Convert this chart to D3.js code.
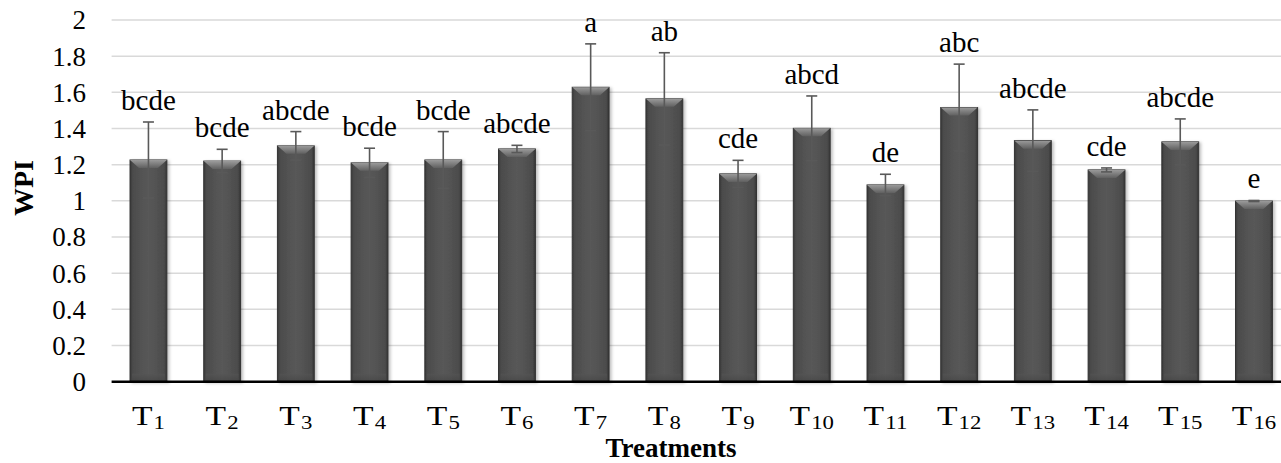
<!DOCTYPE html>
<html>
<head>
<meta charset="utf-8">
<script src="https://cdn.jsdelivr.net/npm/d3@7"></script>
<style>
  html, body { margin: 0; padding: 0; background: #fff; }
  svg { display: block; }
</style>
</head>
<body>
<svg id="chart" width="1281" height="463"></svg>
<script>
const categories = ["T1","T2","T3","T4","T5","T6","T7","T8","T9","T10","T11","T12","T13","T14","T15","T16"];
const wpiValues  = [1.226, 1.22, 1.304, 1.21, 1.226, 1.287, 1.628, 1.564, 1.149, 1.401, 1.088, 1.516, 1.333, 1.171, 1.326, 0.999];
const errValues  = [0.21, 0.065, 0.079, 0.081, 0.157, 0.02, 0.24, 0.255, 0.075, 0.179, 0.059, 0.24, 0.17, 0.011, 0.127, 0.003];
const groupLetters = ["bcde","bcde","abcde","bcde","bcde","abcde","a","ab","cde","abcd","de","abc","abcde","cde","abcde","e"];
const yTicks = [0, 0.2, 0.4, 0.6, 0.8, 1, 1.2, 1.4, 1.6, 1.8, 2];
const yTickLabels = ["0","0.2","0.4","0.6","0.8","1","1.2","1.4","1.6","1.8","2"];
const xTitle = "Treatments";
const yTitle = "WPI";

const FONT = "Liberation Serif, Times New Roman, serif";
const svg = d3.select("#chart");
const left = 111.6, step = 73.7;
const x = d3.scaleBand().domain(categories)
  .range([left, left + step * categories.length])
  .paddingInner(0.5).paddingOuter(0.25);
const y = d3.scaleLinear().domain([0, 2]).range([381.7, 20]);

const defs = svg.append("defs");
const g1 = defs.append("linearGradient").attr("id","barGrad").attr("x1","0").attr("x2","1").attr("y1","0").attr("y2","0");
[[0,"#3a3a3a"],[0.08,"#4c4c4c"],[0.5,"#585858"],[0.92,"#4c4c4c"],[1,"#353535"]].forEach(([o,c]) =>
  g1.append("stop").attr("offset", o).attr("stop-color", c));
const g2 = defs.append("linearGradient").attr("id","bevelGrad").attr("x1","0").attr("x2","0").attr("y1","0").attr("y2","1");
[[0,"#9a9a9a"],[1,"#606060"]].forEach(([o,c]) =>
  g2.append("stop").attr("offset", o).attr("stop-color", c));
const g3 = defs.append("linearGradient").attr("id","botGrad").attr("x1","0").attr("x2","0").attr("y1","0").attr("y2","1");
[[0,"#555555"],[1,"#424242"]].forEach(([o,c]) =>
  g3.append("stop").attr("offset", o).attr("stop-color", c));
const flt = defs.append("filter").attr("id","shadow").attr("x","-20%").attr("y","-5%").attr("width","150%").attr("height","115%");
flt.append("feDropShadow").attr("dx",2).attr("dy",1).attr("stdDeviation",1.6).attr("flood-color","#000").attr("flood-opacity",0.25);

// gridlines
svg.append("g").selectAll("line").data(yTicks.filter(d => d > 0)).join("line")
  .attr("x1", left).attr("x2", 1281)
  .attr("y1", d => y(d)).attr("y2", d => y(d))
  .attr("stroke", "#d9d9d9").attr("stroke-width", 1.5);

// y tick labels
svg.append("g").selectAll("text").data(yTicks).join("text")
  .attr("x", 86).attr("y", d => y(d))
  .attr("dy", "0.35em").attr("text-anchor","end")
  .style("font-family", FONT)
  .attr("font-size", 27).attr("fill","#000")
  .text((d,i) => yTickLabels[i]);

// bars
const bars = svg.append("g").selectAll("g").data(categories).join("g");
bars.append("rect")
  .attr("x", d => x(d)).attr("y", (d,i) => y(wpiValues[i]))
  .attr("width", x.bandwidth()).attr("height", (d,i) => y(0) - y(wpiValues[i]))
  .attr("fill","url(#barGrad)").attr("stroke","#333").attr("stroke-width",1)
  .attr("filter","url(#shadow)");
bars.append("path")
  .attr("d", (d,i) => {
    const x0 = x(d), x1 = x(d) + x.bandwidth(), t = y(wpiValues[i]), h = 8, ins = 9;
    return `M${x0},${t}L${x1},${t}L${x1-ins},${t+h}L${x0+ins},${t+h}Z`;
  })
  .attr("fill","url(#bevelGrad)");
bars.append("rect")
  .attr("x", d => x(d) + 2).attr("y", y(0) - 8)
  .attr("width", x.bandwidth() - 4).attr("height", 8)
  .attr("fill","url(#botGrad)").attr("opacity",0.6);

// error bars
const eb = svg.append("g").attr("stroke","#595959").attr("stroke-width",1.6);
categories.forEach((c,i) => {
  const cx = x(c) + x.bandwidth()/2;
  const hi = y(wpiValues[i] + errValues[i]), lo = y(wpiValues[i] - errValues[i]);
  eb.append("line").attr("x1",cx).attr("x2",cx).attr("y1",hi).attr("y2",lo);
  eb.append("line").attr("x1",cx-5.5).attr("x2",cx+5.5).attr("y1",hi).attr("y2",hi);
  eb.append("line").attr("x1",cx-5.5).attr("x2",cx+5.5).attr("y1",lo).attr("y2",lo);
});

// baseline
svg.append("line").attr("x1", left).attr("x2", 1281).attr("y1", y(0)).attr("y2", y(0))
  .attr("stroke","#000").attr("stroke-width",2.5);

// letters
svg.append("g").selectAll("text").data(categories).join("text")
  .attr("x", d => x(d) + x.bandwidth()/2)
  .attr("y", (d,i) => y(wpiValues[i] + errValues[i]) - 12)
  .attr("text-anchor","middle")
  .style("font-family", FONT)
  .attr("font-size", 29).attr("fill","#000")
  .text((d,i) => groupLetters[i]);

// x tick labels
const xt = svg.append("g").selectAll("text").data(categories).join("text")
  .attr("transform", d => `translate(${x(d) + x.bandwidth()/2},425) scale(1.2,1)`)
  .attr("text-anchor","middle")
  .style("font-family", FONT)
  .attr("fill","#000");
xt.append("tspan").attr("font-size", 28).text(d => d.charAt(0));
xt.append("tspan").attr("font-size", 19).attr("dy", 3.6).attr("dx", 1).text(d => d.slice(1));

// axis titles
svg.append("text").attr("x", 671).attr("y", 457)
  .attr("text-anchor","middle")
  .style("font-family", FONT)
  .attr("font-size", 27).attr("font-weight","bold").text(xTitle);
svg.append("text").attr("transform","translate(33,188) rotate(-90)")
  .attr("text-anchor","middle")
  .style("font-family", FONT)
  .attr("font-size", 28).attr("font-weight","bold").text(yTitle);
</script>
</body>
</html>
